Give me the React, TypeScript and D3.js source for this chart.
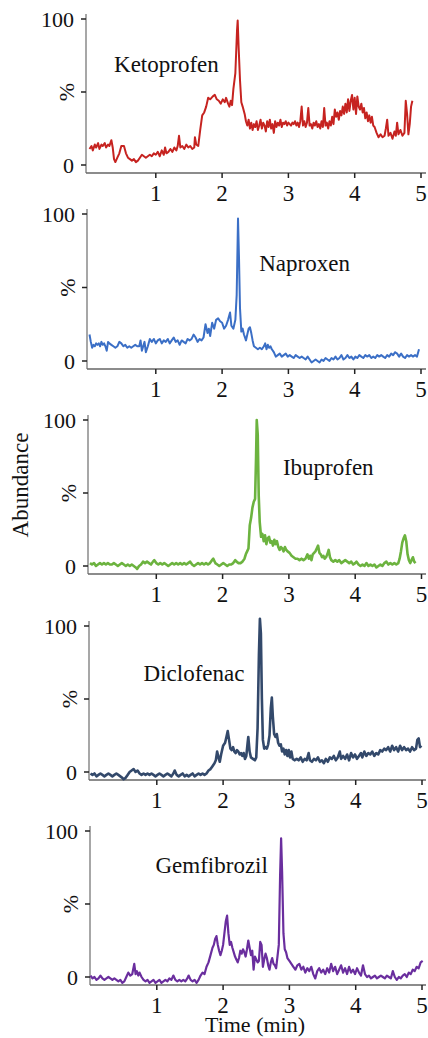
import React from "react";
import * as d3 from "d3";

// chromatogram traces: [time (min), relative abundance %]
const ketoprofen: [number, number][] = [
  [0.0, 11], [0.03, 13], [0.05, 10], [0.08, 14], [0.1, 12], [0.13, 15], [0.15, 11], [0.18, 14], [0.2, 13], [0.23, 15],
  [0.25, 12], [0.28, 14], [0.3, 13], [0.33, 17], [0.35, 12], [0.37, 4], [0.39, 2], [0.42, 5], [0.45, 8], [0.48, 13],
  [0.52, 13], [0.55, 8], [0.58, 5], [0.61, 4], [0.64, 3], [0.67, 4], [0.7, 2], [0.73, 3], [0.76, 5], [0.79, 7],
  [0.82, 6], [0.85, 5], [0.88, 6], [0.91, 7], [0.94, 6], [0.97, 8], [1.0, 7], [1.03, 9], [1.06, 6], [1.09, 10],
  [1.12, 7], [1.14, 12], [1.16, 8], [1.19, 9], [1.22, 11], [1.25, 9], [1.28, 12], [1.31, 10], [1.33, 13], [1.35, 20],
  [1.37, 12], [1.4, 13], [1.43, 11], [1.46, 14], [1.49, 12], [1.52, 13], [1.55, 11], [1.58, 12], [1.59, 19], [1.61, 14],
  [1.64, 13], [1.67, 24], [1.7, 34], [1.73, 36], [1.76, 40], [1.79, 46], [1.82, 45], [1.86, 47], [1.89, 48], [1.92, 45],
  [1.95, 44], [1.98, 42], [2.01, 45], [2.04, 43], [2.06, 46], [2.09, 42], [2.11, 40], [2.13, 44], [2.15, 41], [2.17, 52],
  [2.2, 63], [2.225, 92], [2.235, 99], [2.25, 80], [2.27, 58], [2.29, 43], [2.31, 40], [2.34, 35], [2.36, 30], [2.38, 27],
  [2.4, 31], [2.42, 25], [2.44, 29], [2.46, 24], [2.48, 28], [2.5, 26], [2.52, 30], [2.54, 24], [2.56, 27], [2.58, 31],
  [2.6, 25], [2.62, 29], [2.64, 27], [2.66, 23], [2.68, 30], [2.7, 26], [2.72, 31], [2.74, 25], [2.76, 28], [2.78, 22],
  [2.8, 30], [2.82, 26], [2.84, 29], [2.86, 27], [2.88, 31], [2.9, 26], [2.92, 29], [2.94, 28], [2.96, 30], [2.98, 27],
  [3.0, 29], [3.02, 28], [3.04, 27], [3.06, 29], [3.08, 28], [3.1, 30], [3.12, 27], [3.14, 29], [3.16, 26], [3.18, 30],
  [3.2, 40], [3.22, 27], [3.24, 30], [3.26, 26], [3.28, 29], [3.3, 39], [3.32, 27], [3.34, 28], [3.36, 25], [3.38, 29],
  [3.4, 27], [3.42, 30], [3.44, 26], [3.46, 28], [3.48, 25], [3.5, 30], [3.52, 26], [3.54, 39], [3.56, 27], [3.58, 29],
  [3.6, 25], [3.62, 30], [3.64, 27], [3.66, 33], [3.68, 28], [3.7, 38], [3.72, 33], [3.74, 36], [3.76, 31], [3.78, 37],
  [3.8, 34], [3.82, 40], [3.84, 35], [3.86, 42], [3.88, 36], [3.9, 45], [3.92, 37], [3.94, 44], [3.96, 48], [3.98, 38],
  [4.0, 46], [4.02, 35], [4.04, 47], [4.06, 40], [4.08, 38], [4.1, 42], [4.12, 36], [4.14, 39], [4.16, 32], [4.18, 36],
  [4.2, 30], [4.22, 34], [4.24, 29], [4.26, 33], [4.28, 27], [4.3, 26], [4.33, 22], [4.36, 19], [4.39, 21], [4.42, 19],
  [4.45, 20], [4.47, 25], [4.49, 31], [4.51, 20], [4.54, 22], [4.57, 18], [4.6, 23], [4.62, 20], [4.64, 29], [4.66, 21],
  [4.69, 24], [4.72, 20], [4.75, 22], [4.77, 44], [4.79, 35], [4.81, 21], [4.83, 28], [4.85, 40], [4.87, 44],
];

const naproxen: [number, number][] = [
  [0.0, 18], [0.02, 13], [0.04, 9], [0.06, 11], [0.08, 10], [0.1, 12], [0.12, 11], [0.14, 12], [0.16, 10], [0.18, 13],
  [0.2, 11], [0.22, 12], [0.24, 10], [0.26, 7], [0.28, 13], [0.3, 12], [0.33, 11], [0.36, 10], [0.39, 9], [0.42, 10],
  [0.45, 13], [0.48, 12], [0.51, 10], [0.54, 11], [0.57, 9], [0.6, 10], [0.63, 9], [0.66, 10], [0.69, 11], [0.72, 10],
  [0.75, 10], [0.77, 14], [0.79, 7], [0.81, 10], [0.83, 13], [0.85, 6], [0.88, 10], [0.91, 15], [0.94, 13], [0.97, 15],
  [1.0, 12], [1.03, 14], [1.06, 15], [1.09, 12], [1.12, 14], [1.15, 13], [1.18, 15], [1.21, 12], [1.24, 14], [1.27, 16],
  [1.3, 13], [1.33, 14], [1.36, 11], [1.39, 14], [1.42, 13], [1.45, 12], [1.48, 15], [1.51, 14], [1.54, 15], [1.57, 18],
  [1.6, 16], [1.63, 13], [1.66, 15], [1.69, 14], [1.72, 16], [1.75, 25], [1.78, 19], [1.8, 22], [1.82, 17], [1.85, 26],
  [1.88, 22], [1.91, 28], [1.94, 29], [1.97, 27], [2.0, 26], [2.03, 22], [2.06, 24], [2.09, 28], [2.12, 33], [2.14, 24],
  [2.17, 22], [2.2, 28], [2.22, 45], [2.24, 97], [2.255, 70], [2.27, 36], [2.29, 20], [2.31, 22], [2.33, 18], [2.36, 14],
  [2.38, 18], [2.4, 22], [2.42, 23], [2.44, 19], [2.46, 14], [2.48, 10], [2.51, 9], [2.54, 8], [2.57, 9], [2.6, 8],
  [2.63, 10], [2.65, 12], [2.67, 8], [2.69, 11], [2.71, 9], [2.73, 10], [2.75, 8], [2.78, 6], [2.81, 3], [2.84, 4],
  [2.87, 5], [2.9, 3], [2.93, 4], [2.96, 5], [2.99, 3], [3.02, 4], [3.05, 3], [3.08, 2], [3.11, 4], [3.14, 3],
  [3.17, 2], [3.2, 3], [3.23, 2], [3.26, 1], [3.29, 3], [3.32, 1], [3.35, -1], [3.38, 0], [3.41, 1], [3.44, 0],
  [3.47, -1], [3.5, 1], [3.53, 0], [3.56, 2], [3.59, 1], [3.62, 0], [3.65, 2], [3.68, 1], [3.71, 3], [3.74, 1],
  [3.77, 2], [3.8, 4], [3.83, 1], [3.86, 2], [3.89, 4], [3.92, 2], [3.95, 3], [3.98, 1], [4.01, 3], [4.04, 2],
  [4.07, 4], [4.1, 3], [4.13, 2], [4.16, 4], [4.19, 3], [4.22, 4], [4.25, 2], [4.28, 3], [4.31, 2], [4.34, 4],
  [4.37, 3], [4.4, 4], [4.43, 3], [4.46, 2], [4.49, 4], [4.52, 3], [4.55, 5], [4.58, 4], [4.61, 6], [4.64, 5],
  [4.67, 3], [4.7, 5], [4.73, 3], [4.76, 2], [4.79, 4], [4.82, 3], [4.85, 4], [4.88, 3], [4.91, 4], [4.94, 3], [4.97, 8],
];

const ibuprofen: [number, number][] = [
  [0.0, 2], [0.03, 1], [0.06, 2], [0.09, 0], [0.12, 1], [0.15, 2], [0.18, 1], [0.21, 2], [0.24, 1], [0.27, 2],
  [0.3, 1], [0.33, 1], [0.36, 2], [0.39, 1], [0.42, 0], [0.45, 1], [0.48, 2], [0.51, 1], [0.54, 0], [0.57, 1],
  [0.6, 0], [0.63, 1], [0.66, 0], [0.69, -1], [0.71, -2], [0.74, 0], [0.77, 1], [0.8, 3], [0.83, 2], [0.86, 3],
  [0.89, 2], [0.92, 1], [0.95, 3], [0.97, 4], [1.0, 2], [1.03, 1], [1.06, 2], [1.09, 1], [1.12, 2], [1.15, 1],
  [1.18, 0], [1.21, 1], [1.24, 2], [1.27, 1], [1.3, 2], [1.33, 1], [1.36, 2], [1.39, 1], [1.42, 2], [1.45, 1],
  [1.48, 2], [1.51, 3], [1.54, 1], [1.57, 0], [1.6, 1], [1.63, 2], [1.66, 1], [1.69, 2], [1.72, 1], [1.75, 2],
  [1.78, 1], [1.81, 2], [1.84, 4], [1.86, 5], [1.89, 2], [1.92, 1], [1.95, 0], [1.98, 1], [2.01, 2], [2.04, 1],
  [2.07, 0], [2.1, 1], [2.13, 1], [2.16, 2], [2.19, 4], [2.21, 3], [2.24, 2], [2.27, 2], [2.3, 3], [2.33, 5],
  [2.35, 8], [2.37, 10], [2.39, 12], [2.41, 28], [2.43, 33], [2.45, 40], [2.47, 44], [2.49, 46], [2.505, 75], [2.515, 100],
  [2.53, 90], [2.545, 48], [2.56, 30], [2.58, 20], [2.6, 22], [2.62, 17], [2.64, 21], [2.66, 15], [2.68, 19], [2.7, 20],
  [2.72, 16], [2.74, 17], [2.76, 14], [2.78, 18], [2.8, 15], [2.82, 17], [2.84, 13], [2.86, 11], [2.88, 13], [2.9, 12],
  [2.92, 10], [2.94, 13], [2.96, 11], [2.98, 10], [3.01, 9], [3.04, 7], [3.07, 6], [3.1, 5], [3.13, 5], [3.16, 4],
  [3.19, 5], [3.22, 4], [3.25, 5], [3.28, 8], [3.3, 5], [3.32, 7], [3.34, 4], [3.36, 8], [3.38, 9], [3.4, 10],
  [3.42, 12], [3.44, 14], [3.46, 9], [3.48, 8], [3.5, 6], [3.52, 7], [3.54, 5], [3.56, 6], [3.58, 8], [3.6, 11],
  [3.62, 6], [3.64, 4], [3.67, 3], [3.7, 4], [3.73, 3], [3.76, 4], [3.79, 2], [3.82, 3], [3.85, 4], [3.88, 3],
  [3.91, 2], [3.94, 3], [3.97, 1], [4.0, 2], [4.02, 3], [4.05, 1], [4.08, 0], [4.11, 1], [4.14, 0], [4.17, 2],
  [4.2, 0], [4.23, 1], [4.26, 0], [4.29, 1], [4.32, -1], [4.35, 0], [4.38, 1], [4.41, 0], [4.44, 2], [4.47, 3],
  [4.5, 1], [4.53, 2], [4.56, 1], [4.59, 2], [4.62, 1], [4.65, 2], [4.67, 5], [4.69, 10], [4.71, 16], [4.73, 19],
  [4.75, 21], [4.77, 17], [4.79, 8], [4.81, 4], [4.83, 2], [4.85, 4], [4.87, 6], [4.89, 3], [4.91, 2],
];

const diclofenac: [number, number][] = [
  [0.0, -1], [0.03, -2], [0.06, -1], [0.09, -3], [0.12, -2], [0.15, -1], [0.18, -2], [0.21, -3], [0.24, -2], [0.27, -1],
  [0.3, -2], [0.33, -3], [0.36, -2], [0.39, -1], [0.42, -2], [0.45, -3], [0.48, -4], [0.5, -5], [0.53, -4], [0.56, -2],
  [0.59, 0], [0.62, 1], [0.65, 2], [0.68, 0], [0.71, 1], [0.74, -1], [0.77, -2], [0.8, -1], [0.83, -2], [0.86, -1],
  [0.89, -2], [0.92, -1], [0.95, -2], [0.98, -3], [1.01, -2], [1.04, -1], [1.07, -2], [1.1, -3], [1.13, -2], [1.16, -1],
  [1.19, -2], [1.22, -3], [1.25, -1], [1.27, 1], [1.3, -2], [1.33, -3], [1.36, -2], [1.39, -1], [1.42, -3], [1.45, -2],
  [1.48, -3], [1.51, -2], [1.54, -1], [1.57, -3], [1.6, -2], [1.63, -1], [1.66, -2], [1.69, -1], [1.72, -2], [1.75, -1],
  [1.78, 1], [1.81, 2], [1.84, 4], [1.87, 6], [1.89, 8], [1.91, 14], [1.93, 10], [1.95, 7], [1.97, 12], [2.0, 18],
  [2.03, 20], [2.05, 24], [2.07, 28], [2.09, 22], [2.11, 16], [2.13, 15], [2.15, 17], [2.17, 14], [2.19, 13], [2.21, 15],
  [2.23, 14], [2.25, 12], [2.27, 13], [2.29, 11], [2.31, 13], [2.33, 9], [2.35, 11], [2.37, 20], [2.38, 24], [2.4, 14],
  [2.42, 10], [2.45, 9], [2.48, 8], [2.5, 10], [2.52, 30], [2.54, 80], [2.555, 105], [2.57, 95], [2.585, 50], [2.6, 22],
  [2.62, 16], [2.64, 17], [2.66, 16], [2.68, 19], [2.7, 25], [2.72, 44], [2.735, 51], [2.75, 38], [2.77, 26], [2.79, 24],
  [2.81, 26], [2.83, 20], [2.85, 18], [2.87, 19], [2.89, 14], [2.91, 16], [2.93, 12], [2.95, 15], [2.97, 11], [2.99, 15],
  [3.01, 10], [3.03, 14], [3.05, 9], [3.08, 8], [3.11, 9], [3.14, 8], [3.17, 10], [3.2, 7], [3.23, 9], [3.26, 8],
  [3.29, 13], [3.31, 8], [3.34, 7], [3.37, 9], [3.4, 8], [3.43, 10], [3.46, 7], [3.49, 8], [3.52, 6], [3.55, 9],
  [3.58, 7], [3.61, 10], [3.64, 9], [3.67, 11], [3.7, 8], [3.73, 10], [3.76, 14], [3.78, 9], [3.81, 11], [3.84, 9],
  [3.87, 12], [3.9, 8], [3.93, 13], [3.96, 10], [3.99, 12], [4.02, 9], [4.05, 11], [4.08, 13], [4.1, 10], [4.13, 14],
  [4.16, 11], [4.19, 13], [4.22, 12], [4.25, 14], [4.28, 11], [4.31, 13], [4.34, 12], [4.37, 15], [4.4, 14], [4.43, 16],
  [4.46, 15], [4.49, 17], [4.52, 14], [4.55, 18], [4.58, 15], [4.61, 17], [4.64, 14], [4.67, 18], [4.7, 15], [4.73, 17],
  [4.76, 15], [4.79, 16], [4.82, 14], [4.85, 17], [4.88, 15], [4.91, 16], [4.93, 22], [4.95, 23], [4.97, 17], [4.99, 18],
];

const gemfibrozil: [number, number][] = [
  [0.0, 1], [0.03, -1], [0.06, 0], [0.09, -2], [0.12, -1], [0.15, 1], [0.18, -1], [0.21, -2], [0.24, -1], [0.27, 0],
  [0.3, -1], [0.33, -2], [0.36, -1], [0.39, -2], [0.42, -3], [0.45, -2], [0.48, -4], [0.51, -3], [0.54, 0], [0.57, 3],
  [0.6, 1], [0.63, 2], [0.66, 9], [0.68, 2], [0.7, 4], [0.72, 1], [0.74, 3], [0.77, 0], [0.8, -2], [0.83, -3],
  [0.86, -2], [0.89, -4], [0.92, -3], [0.95, -2], [0.98, -4], [1.01, -3], [1.04, -2], [1.07, -4], [1.1, -3], [1.13, -2],
  [1.16, -3], [1.19, -1], [1.22, -2], [1.25, 1], [1.28, -2], [1.31, -3], [1.34, -2], [1.37, -3], [1.4, -2], [1.43, -3],
  [1.46, -1], [1.48, 1], [1.51, -2], [1.54, -3], [1.57, -2], [1.6, -4], [1.63, -2], [1.66, 1], [1.69, 3], [1.72, 2],
  [1.75, 7], [1.78, 10], [1.81, 15], [1.84, 20], [1.86, 22], [1.88, 26], [1.9, 28], [1.92, 22], [1.94, 18], [1.96, 15],
  [1.98, 18], [2.0, 22], [2.02, 30], [2.04, 38], [2.06, 42], [2.08, 30], [2.1, 22], [2.12, 24], [2.14, 20], [2.16, 17],
  [2.18, 14], [2.2, 12], [2.22, 10], [2.24, 13], [2.26, 18], [2.28, 16], [2.3, 19], [2.32, 17], [2.34, 14], [2.36, 19],
  [2.38, 25], [2.4, 20], [2.42, 15], [2.44, 18], [2.46, 5], [2.48, 14], [2.5, 12], [2.52, 10], [2.54, 11], [2.56, 24],
  [2.58, 22], [2.6, 7], [2.62, 12], [2.64, 16], [2.66, 13], [2.68, 8], [2.7, 5], [2.72, 10], [2.74, 13], [2.76, 9],
  [2.78, 8], [2.8, 6], [2.82, 14], [2.84, 22], [2.86, 70], [2.875, 95], [2.89, 72], [2.91, 30], [2.93, 19], [2.95, 17],
  [2.97, 13], [3.0, 11], [3.03, 9], [3.06, 7], [3.09, 5], [3.12, 8], [3.15, 9], [3.18, 5], [3.21, 7], [3.24, 3],
  [3.27, 6], [3.3, 4], [3.33, 7], [3.36, 2], [3.39, -1], [3.42, 4], [3.45, 6], [3.48, 3], [3.51, 5], [3.54, 2],
  [3.57, 6], [3.6, 3], [3.63, 9], [3.66, 4], [3.69, 7], [3.72, 2], [3.75, 5], [3.78, 8], [3.81, 3], [3.84, 6],
  [3.87, 2], [3.9, 7], [3.93, 3], [3.96, 5], [3.99, 2], [4.02, 6], [4.05, 3], [4.08, 1], [4.11, 8], [4.14, 2],
  [4.17, 0], [4.2, 1], [4.23, -1], [4.26, 0], [4.29, 1], [4.32, -1], [4.35, 0], [4.38, 1], [4.41, 0], [4.44, -1],
  [4.47, 1], [4.5, 0], [4.53, -1], [4.56, 4], [4.59, 0], [4.62, -2], [4.65, 0], [4.68, -1], [4.71, 1], [4.74, 2],
  [4.77, 0], [4.8, 3], [4.83, 2], [4.86, 5], [4.89, 4], [4.92, 7], [4.95, 6], [4.98, 10], [5.01, 11],
];

const compounds = ["Ketoprofen", "Naproxen", "Ibuprofen", "Diclofenac", "Gemfibrozil"];
const traces = [ketoprofen, naproxen, ibuprofen, diclofenac, gemfibrozil];
const xTicks = [1, 2, 3, 4, 5];
const yTicks = [0, 50, 100];
// where each compound name sits, in (min, %) of its own panel
const nameAnchors: [number, number][] = [[0.37, 64], [2.56, 61], [2.91, 62], [0.8, 62], [0.98, 71]];

const colors = ["#c62320", "#3b6fc6", "#6cb33f", "#33496b", "#6a2e9e"];
const widths = [2, 2, 2.6, 2.6, 2.2];

// layout of the five stacked panels (pixels)
const yTop = [19, 214, 420, 626, 831]; // y of 100 %
const yZero = [165, 361, 566, 772, 977]; // y of 0 %
const axisX = [86, 87, 88, 89, 90]; // y-axis line
const xStart = [89.5, 89.5, 90, 90.5, 90.5]; // x of t = 0
const unit = 66.3;

const W = 428;
const H = 1038;
const FONT = "'Liberation Serif', 'Times New Roman', serif";

function Panel({ i }: { i: number }) {
  const x = d3.scaleLinear().domain([0, 5]).range([xStart[i], xStart[i] + 5 * unit]);
  const y = d3.scaleLinear().domain([0, 100]).range([yZero[i], yTop[i]]);
  const line = d3
    .line<[number, number]>()
    .x((d) => x(d[0]))
    .y((d) => y(d[1]));
  const baseY = yZero[i] + 8;
  const ax = axisX[i];

  return (
    <g>
      {/* y axis */}
      <line x1={ax} x2={ax} y1={yTop[i] - 5} y2={baseY} stroke="#8a8a8a" strokeWidth={1.5} />
      {yTicks.map((t) => (
        <g key={t}>
          <line x1={ax - 5} x2={ax} y1={y(t)} y2={y(t)} stroke="#222" strokeWidth={1.5} />
          {t === 50 ? (
            <text
              transform={`translate(${ax - 20},${y(t)}) rotate(-90)`}
              textAnchor="middle"
              dominantBaseline="central"
              fontSize={22}
              fill="#111"
            >
              %
            </text>
          ) : (
            <text x={ax - 12} y={y(t)} dy="0.35em" textAnchor="end" fontSize={22} fill="#111">
              {t}
            </text>
          )}
        </g>
      ))}
      {/* x axis */}
      <line x1={ax} x2={426} y1={baseY} y2={baseY} stroke="#666" strokeWidth={1.5} />
      {xTicks.map((t) => (
        <g key={t}>
          <line x1={x(t)} x2={x(t)} y1={baseY} y2={baseY + 5} stroke="#222" strokeWidth={1.5} />
          <text x={x(t)} y={baseY + 28} textAnchor="middle" fontSize={23} fill="#111">
            {t}
          </text>
        </g>
      ))}
      <path
        d={line(traces[i]) || ""}
        fill="none"
        stroke={colors[i]}
        strokeWidth={widths[i]}
        strokeLinejoin="round"
      />
      <text x={x(nameAnchors[i][0])} y={y(nameAnchors[i][1])} fontSize={23} fill="#111">
        {compounds[i]}
      </text>
    </g>
  );
}

export default function App() {
  return (
    <svg
      width={W}
      height={H}
      style={{ position: "absolute", left: 0, top: 0, background: "#fff" }}
      fontFamily={FONT}
    >
      <rect width={W} height={H} fill="#fff" />
      {compounds.map((_, i) => (
        <Panel key={i} i={i} />
      ))}
      <text
        transform="translate(20,485) rotate(-90)"
        textAnchor="middle"
        dominantBaseline="central"
        fontSize={23}
        fill="#111"
      >
        Abundance
      </text>
      <text x={255} y={1032} textAnchor="middle" fontSize={22} fill="#111">
        Time (min)
      </text>
    </svg>
  );
}
